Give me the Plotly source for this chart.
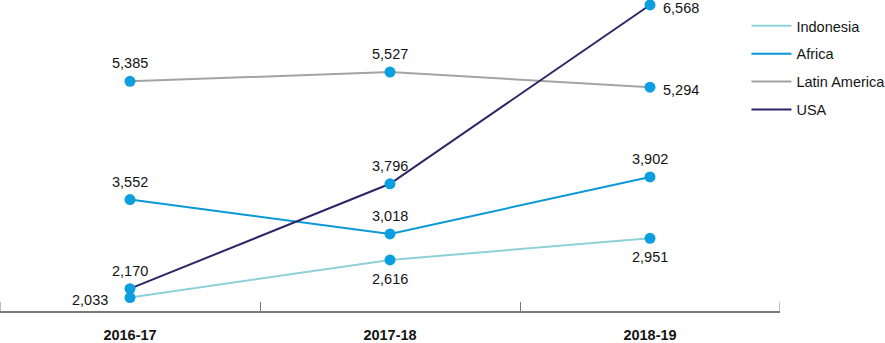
import plotly.graph_objects as go

years = ["2016-17", "2017-18", "2018-19"]
indonesia = [2033, 2616, 2951]
africa = [3552, 3018, 3902]
latin_america = [5385, 5527, 5294]
usa = [2170, 3796, 6568]

series = [
    ("Indonesia", indonesia, "#8ed1d6", ["left", "below", "below"]),
    ("Africa", africa, "#0a98d8", ["above", "above", "above"]),
    ("Latin America", latin_america, "#a3a3a3", ["above", "above", "right"]),
    ("USA", usa, "#2b2766", ["above", "above", "right"]),
]

FONT = "Liberation Sans"
FS = 14.5
TXT = "#141414"

# label placement styles (pixel offsets from the marker)
PLACE = {
    "above": dict(xanchor="center", yanchor="middle", xshift=0, yshift=18),
    "below": dict(xanchor="center", yanchor="middle", xshift=0, yshift=-19),
    "right": dict(xanchor="left", yanchor="middle", xshift=11, yshift=-3),
    "left": dict(xanchor="right", yanchor="middle", xshift=-20, yshift=-2),
}

fig = go.Figure()
for name, vals, color, pos in series:
    fig.add_trace(go.Scatter(
        x=years, y=vals, mode="lines", name=name,
        line=dict(color=color, width=2), legendgroup=name,
        cliponaxis=False, hoverinfo="skip",
    ))
for name, vals, color, pos in series:
    fig.add_trace(go.Scatter(
        x=years, y=vals, mode="markers", showlegend=False,
        marker=dict(color="#0c9fe0", size=11),
        cliponaxis=False, legendgroup=name, hoverinfo="skip",
    ))
    for xv, yv, p in zip(years, vals, pos):
        fig.add_annotation(
            x=xv, y=yv, xref="x", yref="y", text=f"{yv:,}", showarrow=False,
            font=dict(size=FS, color=TXT, family=FONT), **PLACE[p],
        )

# end ticks of the category axis (boundary ticks at both ends)
for xb in (-0.5, 2.5):
    fig.add_shape(type="line", xref="x", yref="paper", ysizemode="pixel", yanchor=0,
                  x0=xb, x1=xb, y0=0, y1=9, line=dict(color="#7a7a7a", width=1))

fig.update_layout(
    width=885, height=343,
    margin=dict(l=0, r=105, t=0, b=32, autoexpand=False),
    plot_bgcolor="white", paper_bgcolor="white",
    font=dict(family=FONT, size=FS, color=TXT),
    legend=dict(
        x=0.957, xref="paper", xanchor="left",
        y=0.971, yref="container", yanchor="top",
        tracegroupgap=6, itemwidth=40,
        font=dict(size=FS, color=TXT, family=FONT),
        bgcolor="rgba(0,0,0,0)",
    ),
    showlegend=True,
)
fig.update_xaxes(
    type="category", range=[-0.5, 2.5],
    showline=True, linecolor="#7a7a7a", linewidth=2,
    ticks="inside", tickson="boundaries", ticklen=9, tickcolor="#7a7a7a", tickwidth=1,
    showgrid=False, zeroline=False,
    tickfont=dict(size=FS, color=TXT, family=FONT, weight="bold"),
    ticklabelstandoff=10,
)
fig.update_yaxes(range=[1824, 6645], visible=False, showgrid=False)

fig.write_html("out.html")
